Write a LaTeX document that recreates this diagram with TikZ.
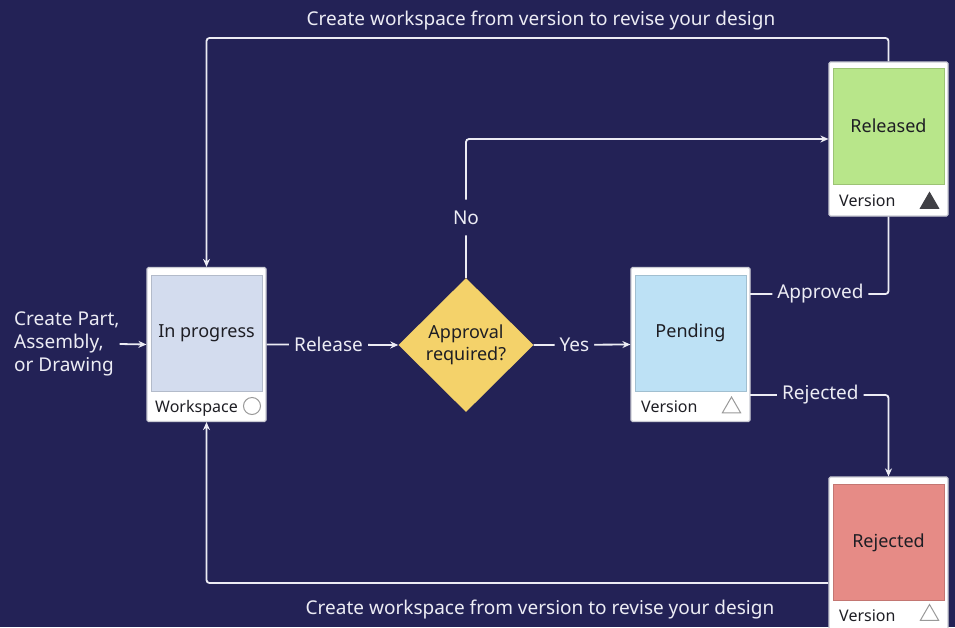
\documentclass[tikz,border=0pt]{standalone}
\usepackage{fontspec}
\setmainfont{Noto Sans}
\usetikzlibrary{shapes.geometric,arrows.meta}
\definecolor{bg}{HTML}{232256}
\definecolor{ipfill}{HTML}{D3DCEE}
\definecolor{pdfill}{HTML}{BDE1F5}
\definecolor{rlfill}{HTML}{B8E68A}
\definecolor{rjfill}{HTML}{E68B86}
\definecolor{dmfill}{HTML}{F4D26A}
\definecolor{ink}{HTML}{1E1E24}
\definecolor{cardline}{HTML}{C9CAD3}
\definecolor{wire}{HTML}{ECECF4}

\begin{document}
\begin{tikzpicture}[x=1pt, y=-1pt,
    card/.style={draw=cardline, line width=1.2pt, fill=white, minimum width=119pt, minimum height=154pt, inner sep=0pt, rounded corners=1.5pt},
    face/.style={draw=#1!85!black, line width=0.8pt, fill=#1, minimum width=111pt, minimum height=116pt, inner sep=0pt, text=ink, font=\fontsize{18}{22}\selectfont},
    foot/.style={text=ink, font=\fontsize{16}{19}\selectfont, inner sep=0pt, anchor=base west},
    tri/.style={regular polygon, regular polygon sides=3, minimum size=21pt, inner sep=0pt, draw=gray!80, line width=1pt},
    flow/.style={draw=wire, line width=1.8pt, rounded corners=3pt, -{Stealth[length=8pt, width=7pt]}},
    link/.style={draw=wire, line width=1.8pt, rounded corners=3pt},
    lbl/.style={fill=bg, text=wire, inner xsep=5pt, inner ysep=4pt, font=\fontsize{19}{23}\selectfont},
    note/.style={text=wire, font=\fontsize{19}{22}\selectfont}]
    \useasboundingbox (0,0) rectangle (955,627);
    \fill[bg] (0,0) rectangle (955,627);

    \node[card] (ip) at (206.5,344.5) {};
    \node[face=ipfill] (ipf) at (206.5,333) {In progress};
    \node[foot] (ipt) at (155,412) {Workspace};
    \node[circle, draw=gray!80, line width=1pt, minimum size=17pt, inner sep=0pt] (ipc) at (252,406) {};

    \node[card] (pd) at (690.5,344.5) {};
    \node[face=pdfill] (pdf) at (690.5,333) {Pending};
    \node[foot] (pdt) at (641,412) {Version};
    \node[tri] (pdi) at (731.5,407.5) {};

    \node[card] (rl) at (888.5,139) {};
    \node[face=rlfill] (rlf) at (888.5,126) {Released};
    \node[foot] (rlt) at (839,206) {Version};
    \node[tri, fill=ink!85, draw=ink!85] (rli) at (929.5,203) {};

    \node[card] (rj) at (888.5,554) {};
    \node[face=rjfill] (rjf) at (888.5,542.5) {Rejected};
    \node[foot] (rjt) at (839,621) {Version};
    \node[tri] (rji) at (929.5,615) {};

    \node[diamond, fill=dmfill, minimum width=135pt, minimum height=134pt, inner sep=0pt, align=center, text=ink, font=\fontsize{18}{22}\selectfont] (dm) at (466,345) {Approval\\required?};

    \node[anchor=west, align=left, inner sep=0pt, text=wire, font=\fontsize{19}{23}\selectfont] (src) at (14,344) {Create Part,\\Assembly,\\or Drawing};

    \coordinate (tl) at (540,38);
    \coordinate (bl) at (828,583);
    \coordinate (apv) at (750,294);
    \coordinate (rjv) at (750,395);

    \draw[flow] (src.east) -- (ip.west);
    \draw[flow] (ip.east) -- node[lbl, pos=0.47] {Release} (dm.west);
    \draw[flow] (dm.east) -- node[lbl, pos=0.42] {Yes} (pd.west);
    \draw[flow] (dm.north) |- node[lbl, pos=0.217, inner ysep=11pt] {No} (rl.west);
    \draw[link] (rl.south) |- node[lbl, pos=0.746] {Approved} (apv);
    \draw[flow] (rjv) -| node[lbl, pos=0.254] {Rejected} (rj.north);
    \draw[flow] (rl.north) |- (tl) -| (ip.north);
    \draw[flow] (bl) -| (ip.south);

    \node[note] (tn) at (541,21) {Create workspace from version to revise your design};
    \node[note] (bn) at (540,610) {Create workspace from version to revise your design};
\end{tikzpicture}
\end{document}
